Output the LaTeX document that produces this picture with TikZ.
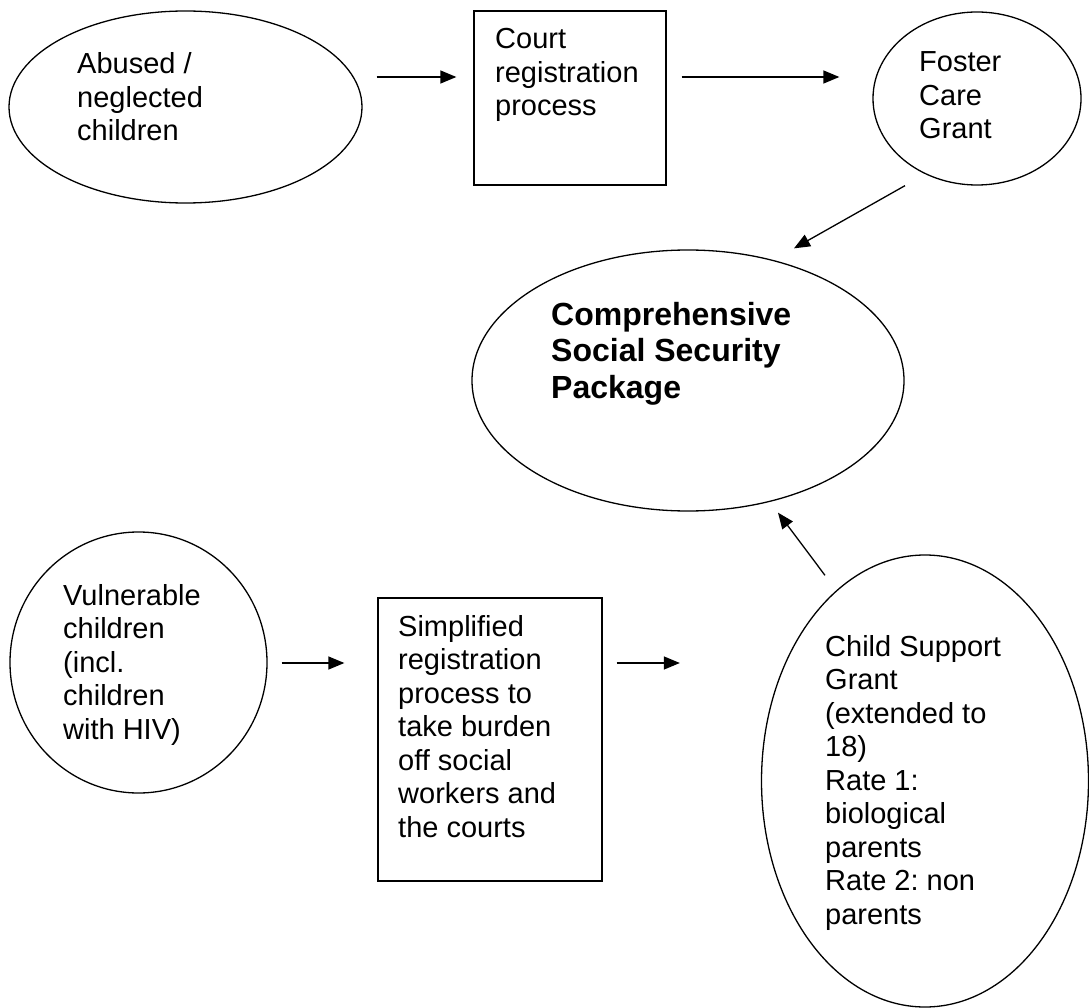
\documentclass[tikz,border=0pt]{standalone}
\usepackage{fontspec}
\setmainfont{Liberation Sans}
\usetikzlibrary{shapes.geometric,arrows.meta,calc}
\frenchspacing

\newcommand{\celltext}[1]{\parbox[t]{330pt}{\raggedright\fontsize{29}{33.5}\selectfont #1}}
\newcommand{\celltextbold}[1]{\parbox[t]{330pt}{\raggedright\bfseries\fontsize{32}{36.7}\selectfont #1}}

\begin{document}
\begin{tikzpicture}[x=1pt, y=-1pt,
        bubble/.style = {ellipse, draw, line width=1.3pt, inner sep=0pt},
        procbox/.style = {rectangle, draw, line width=1.3pt, inner sep=0pt},
        txt/.style = {anchor=base west, inner sep=0pt},
        arr/.style = {-{Triangle[length=16pt,width=13pt]}, line width=1.3pt}]
    \useasboundingbox (0,0) rectangle (1089,1008);

    % court route
    \node[bubble, minimum width=353pt, minimum height=192pt] (abused) at (185.5,107) {};
    \node[procbox, minimum width=192pt, minimum height=174pt] (court) at (570,98) {};
    \node[bubble, minimum width=208pt, minimum height=173pt] (foster) at (977,98.5) {};

    % package
    \node[bubble, minimum width=432pt, minimum height=261pt] (package) at (688,380.5) {};

    % simplified route
    \node[bubble, minimum width=257pt, minimum height=261pt] (vulnerable) at (138.5,662.5) {};
    \node[procbox, minimum width=224pt, minimum height=283pt] (simplified) at (490,739.5) {};
    \node[bubble, minimum width=327pt, minimum height=452pt] (csg) at (925,781) {};

    % texts
    \node[txt] (abusedtext) at (77,74) {\celltext{Abused /\\ neglected\\ children}};
    \node[txt] (courttext) at (495,49) {\celltext{Court\\ registration\\ process}};
    \node[txt] (fostertext) at (919,72) {\celltext{Foster\\ Care\\ Grant}};
    \node[txt] (packagetext) at (551,325) {\celltextbold{Comprehensive\\ Social Security\\ Package}};
    \node[txt] (vulnerabletext) at (63,605) {\celltext{Vulnerable\\ children\\ (incl.\\ children\\ with HIV)}};
    \node[txt] (simplifiedtext) at (398,636) {\celltext{Simplified\\ registration\\ process to\\ take burden\\ off social\\ workers and\\ the courts}};
    \node[txt] (csgtext) at (825,656) {\celltext{Child Support\\ Grant\\ (extended to\\ 18)\\ Rate 1:\\ biological\\ parents\\ Rate 2: non\\ parents}};

    % arrows
    \draw[arr] ($(abused.east)+(14,-30)$) -- ($(court.west)+(-17,-21)$);
    \draw[arr] ($(court.east)+(15,-21)$) -- ($(foster.west)+(-33,-21.5)$);
    \draw[arr] ($(foster.south)+(-72,0)$) -- ($(package.north)+(106,-1)$);
    \draw[arr] ($(vulnerable.east)+(14,0.5)$) -- ($(simplified.west)+(-33,-76.5)$);
    \draw[arr] ($(simplified.east)+(14,-76.5)$) -- ($(csg.west)+(-81,-118)$);
    \draw[arr] ($(csg.north)+(-100,21)$) -- ($(package.south)+(90,1)$);
\end{tikzpicture}
\end{document}
